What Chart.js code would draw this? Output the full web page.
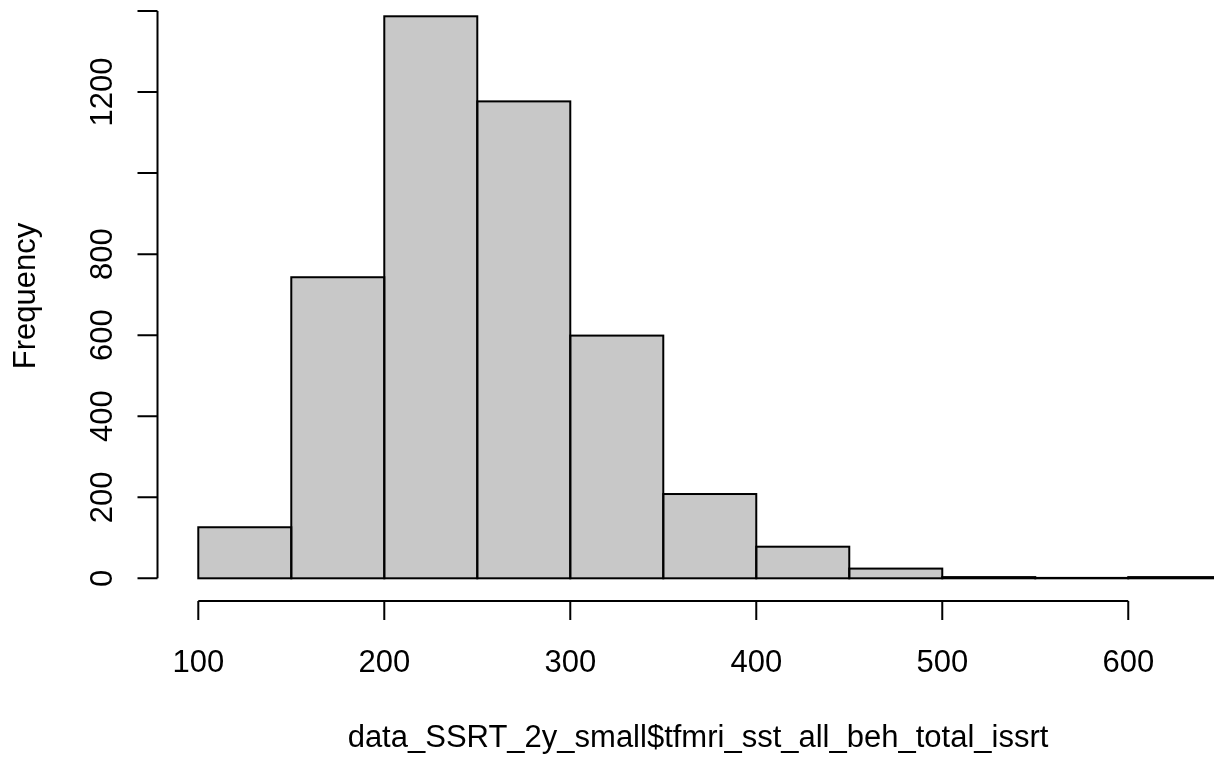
<!DOCTYPE html>
<html>
<head>
<meta charset="utf-8">
<script src="https://cdn.jsdelivr.net/npm/chart.js@4"></script>
<style>
  html, body { margin: 0; padding: 0; background: #fff; overflow: hidden; }
  #wrap { width: 1214px; height: 758px; position: relative; }
</style>
</head>
<body>
<div id="wrap"><canvas id="histChart"></canvas></div>
<script>
/* global Chart */
// histogram bins (left edge of each bin) and counts
const binStarts = [100, 150, 200, 250, 300, 350, 400, 450, 500, 550, 600]
const binWidth = 50
const counts = [126, 743, 1387, 1177, 599, 208, 78, 24, 3, 1, 3]
// axis ticks as drawn by R
const xTicks = [100, 200, 300, 400, 500, 600]
const yTicks = [0, 200, 400, 600, 800, 1000, 1200, 1400]
const yTickLabels = ['0', '200', '400', '600', '800', '', '1200', '']
const xTitle = 'data_SSRT_2y_small$tfmri_sst_all_beh_total_issrt'
const yTitle = 'Frequency'

const FONT = '31px "Liberation Sans", Arial, Helvetica, sans-serif'

// outline each bar like R's rect(): stroke centred on the edges
const barOutline = {
  id: 'barOutline',
  afterDatasetsDraw (chart) {
    const c = chart.ctx
    const area = chart.chartArea
    c.save()
    c.beginPath()
    c.rect(area.left, area.top, area.right - area.left, area.bottom - area.top)
    c.clip()
    c.strokeStyle = '#000'
    c.lineWidth = 2
    chart.getDatasetMeta(0).data.forEach(bar => {
      const p = bar.getProps(['x', 'y', 'base', 'width'], true)
      c.strokeRect(p.x - p.width / 2, p.y, p.width, p.base - p.y)
    })
    c.restore()
  }
}

// R style axes: offset lines that only span the tick range
const rAxes = {
  id: 'rAxes',
  afterDraw (chart) {
    const c = chart.ctx
    const xs = chart.scales.x
    const ys = chart.scales.y
    const area = chart.chartArea
    c.save()
    c.strokeStyle = '#000'
    c.fillStyle = '#000'
    c.lineWidth = 2
    c.font = FONT

    // y axis
    const yx = area.left + 0.5
    c.beginPath()
    c.moveTo(yx, ys.getPixelForValue(yTicks[0]))
    c.lineTo(yx, ys.getPixelForValue(yTicks[yTicks.length - 1]))
    yTicks.forEach(v => {
      const py = ys.getPixelForValue(v)
      c.moveTo(yx, py)
      c.lineTo(yx - 20, py)
    })
    c.stroke()
    c.textAlign = 'center'
    c.textBaseline = 'alphabetic'
    yTicks.forEach((v, i) => {
      if (!yTickLabels[i]) return
      c.save()
      c.translate(111.5, ys.getPixelForValue(v))
      c.rotate(-Math.PI / 2)
      c.fillText(yTickLabels[i], 0, 0)
      c.restore()
    })

    // x axis
    const xy = area.bottom
    c.beginPath()
    c.moveTo(xs.getPixelForValue(xTicks[0]), xy)
    c.lineTo(xs.getPixelForValue(xTicks[xTicks.length - 1]), xy)
    xTicks.forEach(v => {
      const px = xs.getPixelForValue(v)
      c.moveTo(px, xy)
      c.lineTo(px, xy + 19)
    })
    c.stroke()
    xTicks.forEach(v => {
      c.fillText(String(v), xs.getPixelForValue(v), 672)
    })

    // titles, two margin lines further out than the tick labels
    c.fillText(xTitle, 698, 747)
    c.save()
    c.translate(35, 296)
    c.rotate(-Math.PI / 2)
    c.fillText(yTitle, 0, 0)
    c.restore()
    c.restore()
  }
}

const points = binStarts.map((s, i) => ({ x: s + binWidth / 2, y: counts[i] }))

new Chart(document.getElementById('histChart'), {
  type: 'bar',
  data: {
    datasets: [{
      data: points,
      backgroundColor: '#c8c8c8',
      borderWidth: 0,
      inflateAmount: 0,
      barPercentage: 1,
      categoryPercentage: 1
    }]
  },
  options: {
    responsive: true,
    maintainAspectRatio: false,
    animation: false,
    layout: { padding: { left: 157, right: 0, top: 0, bottom: 157 } },
    plugins: { legend: { display: false }, tooltip: { enabled: false } },
    scales: {
      x: {
        type: 'linear',
        min: 77.8,
        max: 646.1,
        offset: false,
        grid: { offset: false },
        display: false,
        // ticks on the bin edges so the bar width equals one bin
        afterBuildTicks: scale => {
          scale.ticks = binStarts.map(v => ({ value: v }))
        }
      },
      y: { min: -56, max: 1427.2, display: false }
    }
  },
  plugins: [barOutline, rAxes]
})
</script>
</body>
</html>
